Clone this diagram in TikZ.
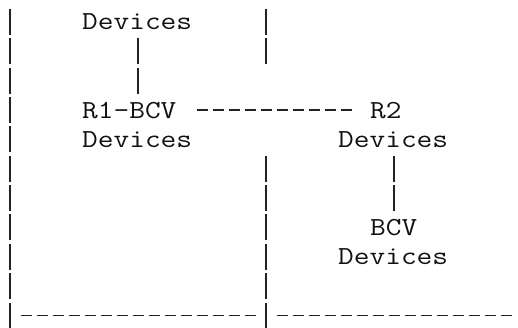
\documentclass[tikz,border=0pt]{standalone}
\usepackage{fontspec}
\definecolor{txt}{HTML}{111111}
\definecolor{ln}{HTML}{222222}
\tikzset{
  lbl/.style={font=\ttfamily\fontsize{26pt}{29.35pt}\selectfont, xscale=1.172, inner sep=0pt, anchor=base west, text=txt},
  vbar/.style={line width=1.5pt, draw=ln, dash pattern=on 26pt off 3.35pt},
  hdash/.style={line width=1.3pt, draw=ln, dash pattern=on 11pt off 5pt},
}
\begin{document}
\begin{tikzpicture}[x=1pt,y=-1pt]
\fill[white] (0,0) rectangle (518,328);
\useasboundingbox (0,0) rectangle (518,328);
% labels
\node[lbl] (topdev) at (82,30) {Devices};
\node[lbl] (r1bcv)  at (82,118.05) {R1-BCV};
\node[lbl] (r1dev)  at (82,147.4) {Devices};
\node[lbl] (r2)     at (370,118.05) {R2};
\node[lbl] (r2dev)  at (338,147.4) {Devices};
\node[lbl] (bcv)    at (370,235.45) {BCV};
\node[lbl] (bcvdev) at (338,264.8) {Devices};
% frame coordinates
\coordinate (ltop) at (10,9);
\coordinate (lbot) at (10,328.5);
\coordinate (mtop) at (266,9);
\coordinate (mtopend) at (266,64.35);
\coordinate (mlow) at (266,155.75);
\coordinate (mbot) at (266,328.5);
\coordinate (b1s) at (20.5,315.5);
\coordinate (b1e) at (255.5,315.5);
\coordinate (b2s) at (276.5,315.5);
\coordinate (b2e) at (511.5,315.5);
% frame lines
\draw[vbar] (ltop) -- (lbot);
\draw[vbar] (mtop) -- (mtopend);
\draw[vbar] (mlow) -- (mbot);
\draw[hdash] (b1s) -- (b1e);
\draw[hdash] (b2s) -- (b2e);
% connectors
\draw[vbar] ([xshift=56pt,yshift=-8.35pt]topdev.base west) -- ++(0,55.35);
\draw[vbar] ([xshift=56pt,yshift=-8.35pt]r2dev.base west) -- ++(0,55.35);
\draw[hdash] ([xshift=114.5pt,yshift=8pt]r1bcv.base west) -- ([xshift=-18.5pt,yshift=8pt]r2.base west);
\end{tikzpicture}
\end{document}
